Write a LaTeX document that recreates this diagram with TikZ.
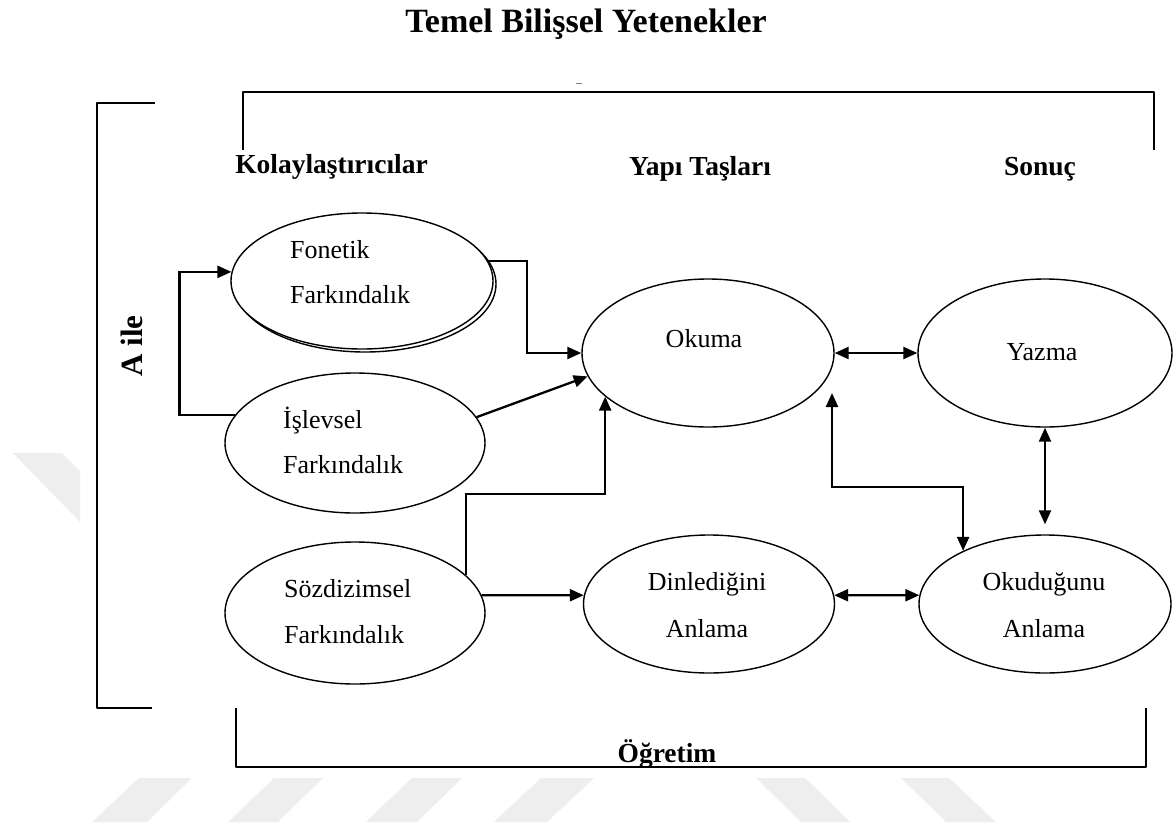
\documentclass[tikz,border=0pt]{standalone}
\usepackage{fontspec}
\setmainfont{Liberation Serif}
\usetikzlibrary{arrows.meta,shapes.geometric}
\definecolor{wm}{RGB}{238,238,238}
\begin{document}
\begin{tikzpicture}[x=1pt,y=-1pt,
  ell/.style={ellipse, draw, line width=1.4pt, fill=white, inner sep=0pt},
  conn/.style={line width=2.3pt, -{Triangle[length=14pt,width=12pt]}},
  dbl/.style={line width=2.3pt, {Triangle[length=14pt,width=12pt]}-{Triangle[length=14pt,width=12pt]}},
  brk/.style={line width=2.4pt, line join=round},
  body/.style={font=\fontsize{26}{30}\selectfont, inner sep=0pt},
  head/.style={font=\bfseries\fontsize{27.5}{32}\selectfont, inner sep=0pt}]
\useasboundingbox (0,0) rectangle (1173,828);
\fill[white] (0,0) rectangle (1173,828);
% watermark stripes
\fill[wm] (92,822) -- (147,822) -- (192,778) -- (139,778) -- cycle;
\fill[wm] (228,822) -- (278,822) -- (323,778) -- (274,778) -- cycle;
\fill[wm] (366,822) -- (417,822) -- (462,778) -- (412,778) -- cycle;
\fill[wm] (494,822) -- (547,822) -- (594,778) -- (541,778) -- cycle;
\fill[wm] (756,778) -- (805,778) -- (850,822) -- (801,822) -- cycle;
\fill[wm] (901,778) -- (949,778) -- (996,822) -- (946,822) -- cycle;
\fill[wm] (13,453) -- (62,453) -- (80,471) -- (80,522) -- cycle;

% title and headers
\node[font=\bfseries\fontsize{34}{38}\selectfont, inner sep=0pt, anchor=base] (title) at (586,32) {Temel Bilişsel Yetenekler};
\draw[line width=1pt, gray] (576,83) -- (582,83);
\node[head, anchor=base] (h1) at (331.5,173) {Kolaylaştırıcılar};
\node[head, anchor=base] (h2) at (700,175) {Yapı Taşları};
\node[head, anchor=base] (h3) at (1040,175) {Sonuç};
\node[head, anchor=base] (ogr) at (667,762) {Öğretim};
\node[font=\bfseries\fontsize{31}{36}\selectfont, inner sep=0pt, anchor=base, rotate=90] (aile) at (142,346) {A ile};

% brackets
\draw[brk] (243,150) -- (243,92) -- (1154,92) -- (1154,150);
\draw[brk] (155,103) -- (97,103) -- (97,708) -- (152,708);
\draw[brk] (236,708) -- (236,767) -- (1146,767) -- (1146,708);

% ellipses
\node[ell, minimum width=262pt, minimum height=136pt] (fonsh) at (365,284) {};
\node[ell, minimum width=262pt, minimum height=136pt] (fon) at (362,281) {};
\node[ell, minimum width=252pt, minimum height=148pt] (oku) at (708,353) {};
\node[ell, minimum width=254pt, minimum height=148pt] (yaz) at (1045,353) {};
\node[ell, minimum width=260pt, minimum height=140pt] (isl) at (355,443) {};
\node[ell, minimum width=260pt, minimum height=142pt] (soz) at (355,613) {};
\node[ell, minimum width=251pt, minimum height=138pt] (din) at (709,604) {};
\node[ell, minimum width=252pt, minimum height=138pt] (okd) at (1045,604) {};

% texts
\node[body, anchor=base west] (t1a) at (290,258) {Fonetik};
\node[body, anchor=base west] (t1b) at (290,303) {Farkındalık};
\node[body, anchor=base west] (t2a) at (283,428) {İşlevsel};
\node[body, anchor=base west] (t2b) at (283,473) {Farkındalık};
\node[body, anchor=base west] (t3a) at (284,597) {Sözdizimsel};
\node[body, anchor=base west] (t3b) at (284,643) {Farkındalık};
\node[body, anchor=base] (t4) at (704,347) {Okuma};
\node[body, anchor=base] (t5) at (1042,360) {Yazma};
\node[body, anchor=base] (t6a) at (707,590) {Dinlediğini};
\node[body, anchor=base] (t6b) at (707,637) {Anlama};
\node[body, anchor=base] (t7a) at (1044,590) {Okuduğunu};
\node[body, anchor=base] (t7b) at (1044,637) {Anlama};

% connectors
\draw[conn] (isl.167) -| ([xshift=-52pt]fon.176) -- (fon.176);
\draw[conn] (fon.9) -| ([xshift=-54pt]oku.west) -- (oku.west);
\draw[conn] (isl.12) -- (oku.191);
\draw[conn] (soz.19) -- ++(0,-81) -| (oku.203);
\draw[conn] (soz.8) -- (din.176);
\draw[dbl] (din.4) -- (okd.176);
\draw[dbl] (oku.east) -- (yaz.west);
\draw[dbl] (yaz.south) -- ([yshift=10pt]okd.north);
\coordinate (okuin) at ([xshift=124pt,yshift=-40pt]oku.center);
\draw[dbl] (okuin) -- ++(0,94) -| (okd.147);
\end{tikzpicture}
\end{document}
